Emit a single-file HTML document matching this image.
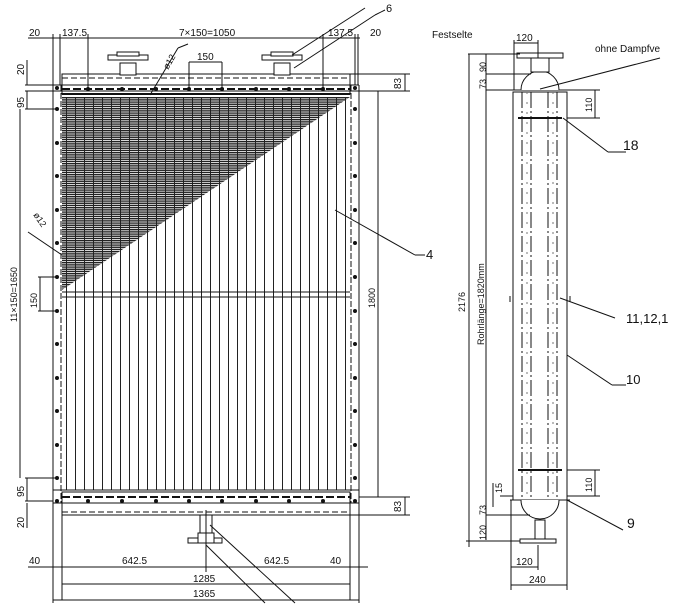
<!DOCTYPE html>
<html><head><meta charset="utf-8"><style>
html,body{margin:0;padding:0;background:#fff;}
svg{display:block;font-family:"Liberation Sans",sans-serif;}
</style></head><body>
<svg width="686" height="608" viewBox="0 0 686 608" xmlns="http://www.w3.org/2000/svg">
<defs>
<pattern id="tubes" x="62" y="0" width="9" height="10" patternUnits="userSpaceOnUse">
<line x1="4.5" y1="0" x2="4.5" y2="10" stroke="#222" stroke-width="1"/>
</pattern>
<pattern id="hatch" x="0" y="97" width="10" height="2.2" patternUnits="userSpaceOnUse">
<line x1="0" y1="0.7" x2="10" y2="0.7" stroke="#222" stroke-width="1.4"/>
</pattern>
</defs>
<g stroke="#111" fill="none" stroke-width="1">
<rect x="62" y="97" width="288" height="393" fill="url(#tubes)" stroke="none"/>
<polygon points="62,97 350,97 62,290" fill="url(#hatch)" stroke="none"/>
<line x1="62" y1="292" x2="350" y2="292"/><line x1="62" y1="297" x2="350" y2="297"/>
<line x1="53" y1="85" x2="53" y2="503"/><line x1="61" y1="85" x2="61" y2="503" stroke-dasharray="6,2"/>
<line x1="351" y1="85" x2="351" y2="503" stroke-dasharray="6,2"/><line x1="359" y1="85" x2="359" y2="503"/>
<rect x="62" y="74" width="288" height="20"/>
<line x1="62" y1="78" x2="350" y2="78" stroke-dasharray="6,3"/>
<line x1="62" y1="89" x2="350" y2="89" stroke-width="2" stroke-dasharray="8,3"/>
<line x1="62" y1="94" x2="350" y2="94" stroke-width="2"/>
<line x1="53" y1="85" x2="359" y2="85"/><line x1="53" y1="91" x2="359" y2="91"/>
<g fill="#fff">
<rect x="120" y="63" width="16" height="12"/><rect x="108" y="55" width="40" height="5"/><rect x="117" y="52" width="22" height="4"/>
<rect x="274" y="63" width="16" height="12"/><rect x="262" y="55" width="40" height="5"/><rect x="271" y="52" width="22" height="4"/>
</g>
<rect x="62" y="492" width="288" height="23"/>
<line x1="62" y1="497" x2="350" y2="497" stroke-width="2" stroke-dasharray="8,3"/>
<line x1="62" y1="512" x2="350" y2="512" stroke-dasharray="6,3"/>
<line x1="53" y1="490" x2="359" y2="490"/><line x1="53" y1="503" x2="359" y2="503"/>
<g fill="#fff"><rect x="200" y="515" width="12" height="20"/><rect x="188" y="538" width="34" height="5"/><rect x="198" y="533" width="16" height="10"/></g>
<line x1="206" y1="510" x2="206" y2="572"/>
<g fill="#111" stroke="none">
<circle cx="88" cy="89" r="2"/><circle cx="122" cy="89" r="2"/><circle cx="156" cy="89" r="2"/><circle cx="189" cy="89" r="2"/><circle cx="222" cy="89" r="2"/><circle cx="256" cy="89" r="2"/><circle cx="289" cy="89" r="2"/><circle cx="323" cy="89" r="2"/>
<circle cx="88" cy="501" r="2"/><circle cx="122" cy="501" r="2"/><circle cx="156" cy="501" r="2"/><circle cx="189" cy="501" r="2"/><circle cx="222" cy="501" r="2"/><circle cx="256" cy="501" r="2"/><circle cx="289" cy="501" r="2"/><circle cx="323" cy="501" r="2"/>
<circle cx="57" cy="88" r="2"/><circle cx="57" cy="109" r="2"/><circle cx="57" cy="143" r="2"/><circle cx="57" cy="176" r="2"/><circle cx="57" cy="210" r="2"/><circle cx="57" cy="243" r="2"/><circle cx="57" cy="277" r="2"/><circle cx="57" cy="311" r="2"/><circle cx="57" cy="344" r="2"/><circle cx="57" cy="378" r="2"/><circle cx="57" cy="411" r="2"/><circle cx="57" cy="445" r="2"/><circle cx="57" cy="478" r="2"/><circle cx="57" cy="501" r="2"/>
<circle cx="355" cy="88" r="2"/><circle cx="355" cy="109" r="2"/><circle cx="355" cy="143" r="2"/><circle cx="355" cy="176" r="2"/><circle cx="355" cy="210" r="2"/><circle cx="355" cy="243" r="2"/><circle cx="355" cy="277" r="2"/><circle cx="355" cy="311" r="2"/><circle cx="355" cy="344" r="2"/><circle cx="355" cy="378" r="2"/><circle cx="355" cy="411" r="2"/><circle cx="355" cy="445" r="2"/><circle cx="355" cy="478" r="2"/><circle cx="355" cy="501" r="2"/>
</g>
<line x1="28" y1="38" x2="360" y2="38"/>
<line x1="53" y1="34" x2="53" y2="85"/><line x1="60" y1="34" x2="60" y2="85"/><line x1="88" y1="34" x2="88" y2="89"/><line x1="323" y1="34" x2="323" y2="89"/><line x1="355" y1="34" x2="355" y2="85"/><line x1="358" y1="34" x2="358" y2="85"/>
<line x1="189" y1="62" x2="189" y2="89"/><line x1="222" y1="62" x2="222" y2="89"/><line x1="189" y1="62" x2="222" y2="62"/>
<line x1="27" y1="60" x2="27" y2="85"/><line x1="25" y1="85" x2="53" y2="85"/><line x1="25" y1="91" x2="53" y2="91"/>
<line x1="27" y1="91" x2="27" y2="109"/><line x1="25" y1="109" x2="57" y2="109"/>
<line x1="27" y1="478" x2="27" y2="501"/><line x1="25" y1="478" x2="57" y2="478"/><line x1="25" y1="501" x2="53" y2="501"/><line x1="27" y1="503" x2="27" y2="528"/>
<line x1="20" y1="109" x2="20" y2="478"/>
<line x1="40" y1="277" x2="40" y2="311"/><line x1="38" y1="277" x2="57" y2="277"/><line x1="38" y1="311" x2="57" y2="311"/>
<line x1="350" y1="74" x2="410" y2="74"/><line x1="359" y1="91" x2="410" y2="91"/><line x1="405" y1="74" x2="405" y2="91"/>
<line x1="350" y1="515" x2="410" y2="515"/><line x1="359" y1="497" x2="410" y2="497"/><line x1="405" y1="497" x2="405" y2="515"/>
<line x1="378" y1="91" x2="378" y2="497"/><line x1="372" y1="91" x2="384" y2="91"/>
<line x1="28" y1="567" x2="368" y2="567"/><line x1="62" y1="515" x2="62" y2="600"/><line x1="350" y1="515" x2="350" y2="600"/>
<line x1="53" y1="503" x2="53" y2="603"/><line x1="359" y1="503" x2="359" y2="603"/>
<line x1="62" y1="584" x2="350" y2="584"/><line x1="53" y1="600" x2="359" y2="600"/>
<line x1="150" y1="95" x2="178" y2="48"/><line x1="178" y1="48" x2="188" y2="44"/>
<line x1="28" y1="232" x2="62" y2="255"/>
<line x1="292" y1="55" x2="365" y2="8"/><line x1="294" y1="68" x2="375" y2="15"/><line x1="375" y1="15" x2="385" y2="10"/>
<line x1="335" y1="210" x2="415" y2="255"/><line x1="415" y1="255" x2="425" y2="255"/>
<line x1="210" y1="525" x2="295" y2="603"/><line x1="206" y1="545" x2="265" y2="603"/>
</g>
<g font-size="10" fill="#111">
<text x="29" y="36">20</text><text x="62" y="36">137.5</text><text x="179" y="36">7×150=1050</text><text x="328" y="36">137.5</text><text x="370" y="36">20</text>
<text x="197" y="60">150</text>
<text x="386" y="12" font-size="11">6</text>
<text x="29" y="564">40</text><text x="122" y="564">642.5</text><text x="264" y="564">642.5</text><text x="330" y="564">40</text>
<text x="193" y="582">1285</text><text x="193" y="597">1365</text>
<text x="426" y="259" font-size="13">4</text>
</g>
<g font-size="10" fill="#111">
<text transform="translate(24,75) rotate(-90)">20</text>
<text transform="translate(24,108) rotate(-90)">95</text>
<text transform="translate(24,497) rotate(-90)">95</text>
<text transform="translate(24,528) rotate(-90)">20</text>
<text transform="translate(17,322) rotate(-90)" font-size="9">11×150=1650</text>
<text transform="translate(37,308) rotate(-90)" font-size="9">150</text>
<text transform="translate(401,89) rotate(-90)">83</text>
<text transform="translate(401,512) rotate(-90)">83</text>
<text transform="translate(375,308) rotate(-90)" font-size="9">1800</text>
<text transform="translate(168,70) rotate(-60)" font-size="9">ø12</text>
<text transform="translate(33,215) rotate(55)" font-size="9">ø12</text>
</g>
<g stroke="#111" fill="none" stroke-width="1">
<rect x="513" y="92" width="54" height="408"/>
<line x1="510" y1="90" x2="570" y2="90"/><line x1="510" y1="500" x2="570" y2="500"/>
<g stroke-dasharray="16,3,2,3"><line x1="522" y1="92" x2="522" y2="500"/><line x1="531" y1="92" x2="531" y2="500"/><line x1="548" y1="92" x2="548" y2="500"/><line x1="557" y1="92" x2="557" y2="500"/></g>
<g stroke-dasharray="2,8" stroke="#777"><line x1="527" y1="92" x2="527" y2="500"/><line x1="553" y1="92" x2="553" y2="500"/></g>
<line x1="518" y1="118" x2="562" y2="118" stroke-width="2"/><line x1="518" y1="470" x2="562" y2="470" stroke-width="2"/>
<path d="M521,90 A19,19 0 0 1 559,90" fill="#fff"/><path d="M521,500 A19,19 0 0 0 559,500" fill="#fff"/>
<rect x="531" y="58" width="18" height="14" fill="#fff"/><rect x="517" y="53" width="46" height="5" fill="#fff"/>
<rect x="535" y="520" width="10" height="20" fill="#fff"/><rect x="520" y="539" width="36" height="4" fill="#fff"/>
<line x1="510" y1="296" x2="510" y2="302"/><line x1="570" y1="296" x2="570" y2="302"/>
<line x1="468" y1="54" x2="520" y2="54"/><line x1="486" y1="74" x2="531" y2="74"/><line x1="486" y1="90" x2="513" y2="90"/>
<line x1="469" y1="54" x2="469" y2="547"/><line x1="486" y1="54" x2="486" y2="540"/>
<line x1="514" y1="43" x2="538" y2="43"/><line x1="514" y1="40" x2="514" y2="90"/><line x1="538" y1="40" x2="538" y2="58"/>
<line x1="567" y1="90" x2="600" y2="90"/><line x1="567" y1="118" x2="600" y2="118"/><line x1="595" y1="90" x2="595" y2="118"/>
<line x1="567" y1="470" x2="600" y2="470"/><line x1="567" y1="496" x2="600" y2="496"/><line x1="595" y1="470" x2="595" y2="496"/>
<line x1="500" y1="496" x2="513" y2="496"/><line x1="493" y1="483" x2="493" y2="507"/>
<line x1="486" y1="515" x2="530" y2="515"/><line x1="466" y1="541" x2="520" y2="541"/>
<line x1="511" y1="500" x2="511" y2="590"/><line x1="538" y1="545" x2="538" y2="570"/><line x1="511" y1="567" x2="538" y2="567"/>
<line x1="567" y1="500" x2="567" y2="590"/><line x1="511" y1="585" x2="567" y2="585"/>
<line x1="540" y1="89" x2="660" y2="58"/>
<line x1="563" y1="118" x2="608" y2="152"/><line x1="608" y1="152" x2="626" y2="152"/>
<line x1="560" y1="298" x2="615" y2="318"/>
<line x1="567" y1="355" x2="612" y2="385"/><line x1="612" y1="385" x2="626" y2="385"/>
<line x1="567" y1="500" x2="623" y2="530"/>
</g>
<g font-size="10" fill="#111">
<text x="432" y="38">Festselte</text>
<text x="516" y="41">120</text>
<text x="595" y="52">ohne Dampfve</text>
<text x="623" y="150" font-size="14">18</text>
<text x="626" y="323" font-size="13">11,12,1</text>
<text x="626" y="384" font-size="13">10</text>
<text x="627" y="528" font-size="14">9</text>
<text x="516" y="565">120</text>
<text x="529" y="583">240</text>
</g>
<g font-size="9" fill="#111">
<text transform="translate(486,72) rotate(-90)">90</text>
<text transform="translate(486,89) rotate(-90)">73</text>
<text transform="translate(465,312) rotate(-90)">2176</text>
<text transform="translate(484,345) rotate(-90)">Rohrlänge=1820mm</text>
<text transform="translate(592,112) rotate(-90)">110</text>
<text transform="translate(592,492) rotate(-90)">110</text>
<text transform="translate(502,493) rotate(-90)">15</text>
<text transform="translate(486,515) rotate(-90)">73</text>
<text transform="translate(486,540) rotate(-90)">120</text>
</g>
</svg>
</body></html>
